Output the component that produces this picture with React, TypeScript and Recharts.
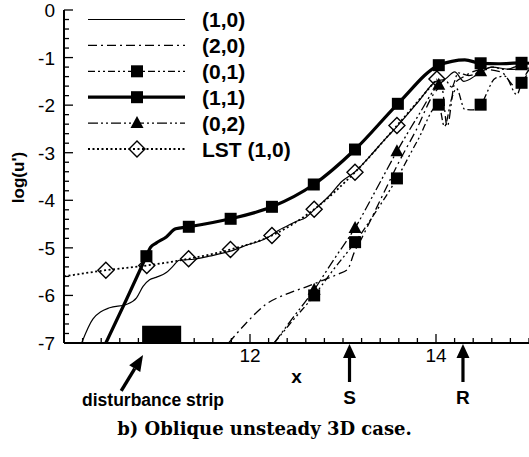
import { ComposedChart, Line, ReferenceArea, ReferenceDot, Scatter, XAxis, YAxis } from 'recharts';

type P = [number, number];

// axis ticks (major + minor)
const X_TICKS = [
  10, 10.2, 10.4, 10.6, 10.8, 11, 11.2, 11.4, 11.6, 11.8, 12, 12.2, 12.4, 12.6, 12.8,
  13, 13.2, 13.4, 13.6, 13.8, 14, 14.2, 14.4, 14.6, 14.8, 15,
];
const X_LABELED = [12, 14];
const Y_TICKS = [
  -7, -6.8, -6.6, -6.4, -6.2, -6, -5.8, -5.6, -5.4, -5.2, -5, -4.8, -4.6, -4.4, -4.2, -4,
  -3.8, -3.6, -3.4, -3.2, -3, -2.8, -2.6, -2.4, -2.2, -2, -1.8, -1.6, -1.4, -1.2, -1,
  -0.8, -0.6, -0.4, -0.2, 0,
];
const Y_LABELED = [0, -1, -2, -3, -4, -5, -6, -7];

const SERIES_NAMES = ['(1,0)', '(2,0)', '(0,1)', '(1,1)', '(0,2)', 'LST (1,0)'];

// (1,0) thin solid
const LINE_10: P[] = [
  [10.19, -7], [10.31, -6.5], [10.49, -6.26], [10.67, -6.19], [10.78, -6.05], [10.85, -5.81],
  [10.92, -5.67], [10.99, -5.62], [11.1, -5.52], [11.17, -5.39], [11.24, -5.26], [11.4, -5.24],
  [11.56, -5.175], [11.79, -5.07], [12.0, -4.92], [12.1, -4.86], [12.2, -4.77], [12.3, -4.64],
  [12.39, -4.55], [12.49, -4.45], [12.6, -4.36], [12.69, -4.2], [12.85, -3.91], [12.99, -3.6],
  [13.13, -3.4], [13.3, -3.05], [13.45, -2.72], [13.58, -2.45], [13.8, -1.95], [14.0, -1.5],
  [14.1, -1.45], [14.2, -1.3], [14.3, -1.5], [14.45, -1.35], [14.6, -1.2], [14.8, -1.25], [15, -1.22],
];

// (2,0) dash-dot
const LINE_20: P[] = [
  [11.77, -7], [11.95, -6.6], [12.17, -6.19], [12.42, -5.95], [12.62, -5.81], [12.76, -5.7],
  [12.95, -5.55], [13.05, -5.45], [13.12, -5.1], [13.2, -4.8], [13.4, -4.0], [13.6, -3.2],
  [13.78, -2.55], [14.0, -1.7], [14.06, -1.6], [14.12, -2.45], [14.2, -1.55], [14.3, -1.4],
  [14.5, -1.25], [14.7, -1.3], [14.85, -1.6], [15, -1.3],
];

// (0,1) dash-dot-dot, squares
const LINE_01: P[] = [
  [12.26, -7], [12.45, -6.55], [12.69, -6.0], [12.9, -5.45], [13.13, -4.88], [13.35, -4.25],
  [13.58, -3.54], [13.8, -2.75], [14.03, -1.99], [14.09, -2.45], [14.17, -1.85], [14.22, -1.65],
  [14.31, -2.09], [14.4, -2.1], [14.48, -1.99], [14.64, -1.43], [14.74, -1.39], [14.87, -1.78],
  [14.92, -1.53], [15, -1.25],
];
const MARK_01: P[] = [[12.69, -6.0], [13.13, -4.88], [13.58, -3.54], [14.03, -1.99], [14.48, -1.99], [14.92, -1.53]];

// (1,1) thick solid, squares
const LINE_11: P[] = [
  [10.45, -7], [10.67, -6.09], [10.886, -5.175], [10.93, -4.99], [10.99, -4.9], [11.1, -4.77],
  [11.2, -4.6], [11.342, -4.557], [11.792, -4.389], [12.236, -4.137], [12.686, -3.668],
  [13.129, -2.933], [13.59, -1.972], [14.03, -1.16], [14.17, -1.08], [14.31, -1.05],
  [14.48, -1.12], [14.67, -1.13], [14.92, -1.11], [15, -1.12],
];
const MARK_11: P[] = [
  [10.886, -5.175], [11.342, -4.557], [11.792, -4.389], [12.236, -4.137], [12.686, -3.668],
  [13.129, -2.933], [13.59, -1.972], [14.03, -1.16], [14.48, -1.12], [14.92, -1.11],
];

// (0,2) dash-dot-dot, triangles
const LINE_02: P[] = [
  [12.26, -7], [12.45, -6.5], [12.69, -5.88], [12.9, -5.25], [13.13, -4.58], [13.35, -3.8],
  [13.58, -2.97], [13.8, -2.25], [14.03, -1.57], [14.1, -1.48], [14.17, -1.62], [14.24, -1.32],
  [14.35, -1.38], [14.48, -1.29], [14.6, -1.2], [14.75, -1.25], [14.92, -1.16], [15, -1.2],
];
const MARK_02: P[] = [[12.69, -5.88], [13.13, -4.58], [13.58, -2.97], [14.03, -1.57], [14.48, -1.29], [14.92, -1.16]];

// LST (1,0) dotted, diamonds
const LINE_LST: P[] = [
  [10, -5.6], [10.45, -5.47], [10.89, -5.37], [11.34, -5.23], [11.79, -5.035], [12.236, -4.74],
  [12.69, -4.19], [13.129, -3.41], [13.58, -2.43], [14.01, -1.45],
];
const MARK_LST: P[] = LINE_LST.slice(1);

// annotations
const STRIP = { x1: 10.84, x2: 11.26, y1: -7, y2: -6.64 };
const STRIP_ARROW_X = 10.85;
const S_X = 13.07;
const R_X = 14.29;

const rows = (pts: P[]) => pts.map(([x, y]) => ({ x, y }));

const SANS = '"Liberation Sans", Arial, sans-serif';

const STYLES = [
  { w: 1.2, dash: undefined as string | undefined, marker: 'none' },
  { w: 1.3, dash: '9 4 2 4', marker: 'none' },
  { w: 1.3, dash: '7 3 2 3 2 3', marker: 'square' },
  { w: 3.2, dash: undefined, marker: 'square' },
  { w: 1.3, dash: '10 3 2 3 2 3', marker: 'triangle' },
  { w: 1.8, dash: '2 2.5', marker: 'diamond' },
];

function marker(kind: string, cx: number, cy: number) {
  if (kind === 'square') return <rect x={cx - 6} y={cy - 6} width={12} height={12} fill="#000" />;
  if (kind === 'triangle')
    return <polygon points={`${cx},${cy - 7} ${cx + 6.5},${cy + 5} ${cx - 6.5},${cy + 5}`} fill="#000" />;
  if (kind === 'diamond')
    return (
      <polygon
        points={`${cx},${cy - 8} ${cx + 8},${cy} ${cx},${cy + 8} ${cx - 8},${cy}`}
        fill="none"
        stroke="#000"
        strokeWidth={1.4}
      />
    );
  return null;
}

const YTick = ({ x, y, payload }: any) => {
  const v = payload.value;
  const major = Y_LABELED.some((t) => Math.abs(t - v) < 1e-6);
  return (
    <g>
      <line x1={x} x2={x + (major ? 9 : 5)} y1={y} y2={y} stroke="#000" strokeWidth={1.3} />
      {major && (
        <text x={x - 9} y={y + 7} textAnchor="end" fontSize={19} fontFamily={SANS} fill="#000">
          {Math.round(v)}
        </text>
      )}
    </g>
  );
};

const XTick = ({ x, y, payload }: any) => {
  const v = payload.value;
  const labeled = X_LABELED.some((t) => Math.abs(t - v) < 1e-6);
  return (
    <g>
      <line x1={x} x2={x} y1={y} y2={y - (labeled ? 9 : 5)} stroke="#000" strokeWidth={1.3} />
      {labeled && (
        <text x={x} y={y + 19} textAnchor="middle" fontSize={19} fontFamily={SANS} fill="#000">
          {v}
        </text>
      )}
    </g>
  );
};

const YLabel = ({ viewBox }: any) => {
  const cx = 18;
  const cy = viewBox.y + viewBox.height / 2 + 1;
  return (
    <text
      x={cx}
      y={cy}
      transform={`rotate(-90 ${cx} ${cy})`}
      textAnchor="middle"
      dominantBaseline="central"
      fontSize={17}
      fontWeight="bold"
      fontFamily={SANS}
      fill="#000"
    >
      log(u')
    </text>
  );
};

const upArrow = (label: string) => ({ cx, cy }: any) => (
  <g>
    <line x1={cx} y1={cy + 12} x2={cx} y2={cy + 39} stroke="#000" strokeWidth={3.2} />
    <polygon points={`${cx},${cy + 1} ${cx + 6.5},${cy + 15} ${cx - 6.5},${cy + 15}`} fill="#000" />
    <text x={cx} y={cy + 61} textAnchor="middle" fontSize={19} fontWeight="bold" fontFamily={SANS} fill="#000">
      {label}
    </text>
  </g>
);

const stripArrow = ({ cx, cy }: any) => {
  const tx = cx;
  const ty = cy + 12;
  const ux = -0.52;
  const uy = 0.853;
  const bx = tx + ux * 16;
  const by = ty + uy * 16;
  return (
    <g>
      <line x1={bx} y1={by} x2={tx + ux * 42} y2={ty + uy * 42} stroke="#000" strokeWidth={3.4} />
      <polygon
        points={`${tx},${ty} ${bx + uy * 6.5},${by - ux * 6.5} ${bx - uy * 6.5},${by + ux * 6.5}`}
        fill="#000"
      />
      <text x={cx + 10} y={cy + 63} textAnchor="middle" fontSize={17.5} fontWeight="bold" fontFamily={SANS} fill="#000">
        disturbance strip
      </text>
    </g>
  );
};

function LegendBox() {
  return (
    <svg width={320} height={170} style={{ position: 'absolute', left: 0, top: 0 }}>
      {SERIES_NAMES.map((name, i) => {
        const s = STYLES[i];
        const y = 19.5 + i * 25.9;
        return (
          <g key={name}>
            <line x1={88} x2={185} y1={y} y2={y} stroke="#000" strokeWidth={s.w} strokeDasharray={s.dash} />
            {marker(s.marker, 137, y)}
            <text x={202} y={y + 7.5} fontSize={21} fontWeight="bold" fontFamily={SANS} fill="#000">
              {name}
            </text>
          </g>
        );
      })}
    </svg>
  );
}

const LINES: P[][] = [LINE_10, LINE_20, LINE_01, LINE_11, LINE_02, LINE_LST];
const MARKS: (P[] | null)[] = [null, null, MARK_01, MARK_11, MARK_02, MARK_LST];

export default function App() {
  return (
    <div style={{ width: 529, height: 457, position: 'relative', background: '#fff' }}>
      <style>{'body{margin:0}'}</style>
      <ComposedChart width={529} height={410} margin={{ top: 10, right: 0, bottom: 22, left: 0 }}>
        <XAxis
          type="number"
          dataKey="x"
          domain={[10, 15]}
          ticks={X_TICKS}
          interval={0}
          tickSize={0}
          tickMargin={0}
          tick={<XTick />}
          height={45}
          axisLine={{ stroke: '#000', strokeWidth: 2 }}
          label={{ value: 'x', position: 'insideBottom', offset: 5, fontSize: 19, fontWeight: 'bold', fontFamily: SANS, fill: '#000' }}
        />
        <YAxis
          type="number"
          domain={[-7, 0]}
          ticks={Y_TICKS}
          interval={0}
          tickSize={0}
          tickMargin={0}
          tick={<YTick />}
          width={64}
          axisLine={{ stroke: '#000', strokeWidth: 2 }}
          label={<YLabel />}
        />
        <ReferenceArea x1={STRIP.x1} x2={STRIP.x2} y1={STRIP.y1} y2={STRIP.y2} fill="#000" fillOpacity={1} stroke="none" />
        {LINES.map((pts, i) => (
          <Line
            key={SERIES_NAMES[i]}
            data={rows(pts)}
            dataKey="y"
            type="monotone"
            stroke="#000"
            strokeWidth={STYLES[i].w}
            strokeDasharray={STYLES[i].dash}
            dot={false}
            activeDot={false}
            isAnimationActive={false}
          />
        ))}
        {MARKS.map((pts, i) =>
          pts ? (
            <Scatter
              key={'m' + SERIES_NAMES[i]}
              data={rows(pts)}
              dataKey="y"
              isAnimationActive={false}
              shape={(p: any) => marker(STYLES[i].marker, p.cx, p.cy)}
            />
          ) : null
        )}
        <ReferenceDot x={STRIP_ARROW_X} y={-7} shape={stripArrow} />
        <ReferenceDot x={S_X} y={-7} shape={upArrow('S')} />
        <ReferenceDot x={R_X} y={-7} shape={upArrow('R')} />
      </ComposedChart>
      <LegendBox />
      <div
        style={{
          textAlign: 'center',
          fontFamily: '"DejaVu Serif", serif',
          fontWeight: 'bold',
          fontSize: 18,
          lineHeight: '38px',
          color: '#000',
        }}
      >
        b) Oblique unsteady 3D case.
      </div>
    </div>
  );
}
